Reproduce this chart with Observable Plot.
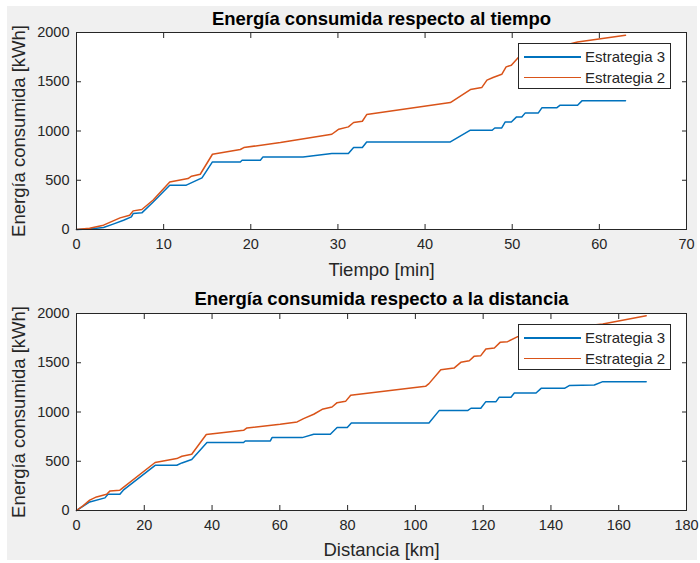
<!DOCTYPE html>
<html><head><meta charset="utf-8">
<script src="https://cdn.jsdelivr.net/npm/d3@7"></script>
<script src="https://cdn.jsdelivr.net/npm/@observablehq/plot@0.6"></script>
<style>
body{margin:0;background:#fff;}
#fig{position:relative;width:700px;height:563px;font-family:"Liberation Sans",Arial,sans-serif;overflow:hidden;}
#bg{position:absolute;left:7px;top:6px;width:690px;height:554px;background:#f0f0f0;}
.panel{position:absolute;left:0;}
.panel svg{overflow:visible;position:relative;z-index:1;display:block;}
.legend{position:absolute;z-index:5;background:#fff;border:1px solid #262626;box-sizing:border-box;width:153px;height:46px;font-size:15px;color:#262626;}
.row{position:absolute;left:0;height:20px;width:150px;}
.row .ln{position:absolute;left:5px;top:9px;width:57px;height:1.5px;}
.row .tx{position:absolute;left:66px;top:1px;line-height:18px;}
</style>
</head><body>
<div id="fig"><div id="bg"></div></div>
<script>
// ---- data ----
const seriesNames = ["Estrategia 3", "Estrategia 2"];
const seriesColors = ["#0072BD", "#D95319"];
const yTicks = [0, 500, 1000, 1500, 2000];

// Energía vs tiempo [min]
const timeTicks = [0, 10, 20, 30, 40, 50, 60, 70];
const tiempoE3 = [0,1.5,3.1,4.2,5.4,6.3,6.5,7.5,8.8,10.7,12.6,14.4,15.6,18.8,19.0,21.1,21.4,26.0,29.3,31.2,31.8,32.8,33.3,42.9,45.2,47.7,48.0,48.8,49.2,49.9,50.5,51.1,51.5,53.0,53.4,55.1,55.5,57.5,58.0,63.0];
const energiaTiempoE3 = [0,5,20,55,94,128,162,169,280,450,450,524,686,686,703,703,737,737,771,771,832,832,889,889,1008,1008,1031,1031,1092,1092,1143,1143,1184,1184,1235,1235,1262,1262,1306,1306];
const tiempoE2 = [0,1.5,3.1,5.0,6.1,6.5,7.5,8.8,10.7,12.8,13.2,14.2,15.6,18.8,19.2,23.4,29.3,30.1,31.2,31.8,32.8,33.3,42.9,45.2,46.5,47.1,47.8,48.8,49.3,49.9,50.7,52.0,54.0,56.0,57.5,63.0];
const energiaTiempoE2 = [0,12,44,118,145,189,203,300,483,517,541,561,764,812,832,883,967,1018,1042,1086,1099,1167,1289,1421,1441,1516,1543,1576,1651,1668,1746,1790,1830,1870,1904,1973];

// Energía vs distancia [km]
const distTicks = [0, 20, 40, 60, 80, 100, 120, 140, 160, 180];
const distE3 = [0,3.9,8.4,9.3,12.8,13.8,23.2,29.6,31.1,34.0,38.5,49.3,49.8,57.2,57.7,66.6,70.0,74.9,76.9,79.9,81.1,104.0,107.0,115.4,116.4,119.3,120.8,123.8,124.7,128.2,129.2,135.6,137.1,144.0,145.4,152.8,155.3,168.1];
const energiaDistE3 = [0,87,128,165,165,206,459,459,483,517,690,690,706,706,740,740,774,774,842,842,889,889,1014,1014,1038,1038,1105,1105,1149,1149,1193,1193,1240,1240,1268,1274,1308,1308];
const distE2 = [0,2.0,3.9,5.9,8.9,9.9,12.8,23.2,29.6,31.1,34.0,38.3,49.3,50.3,60.1,65.1,67.0,70.0,72.5,75.4,76.9,79.4,80.9,103.0,104.0,107.5,111.4,113.4,115.9,117.3,119.3,120.8,123.3,125.0,127.2,130.2,140.0,148.0,155.3,168.1];
const energiaDistE2 = [0,50,105,138,165,199,206,487,527,551,571,771,814,838,875,899,933,977,1027,1051,1095,1108,1169,1261,1288,1430,1446,1504,1521,1565,1572,1639,1649,1707,1714,1765,1830,1865,1894,1978];

const yLabel = "Energía consumida [kWh]";

function makePanel(o) {
  const rows = [
    ...o.x3.map((x, i) => ({x, e: o.e3[i], s: seriesNames[0]})),
    ...o.x2.map((x, i) => ({x, e: o.e2[i], s: seriesNames[1]}))
  ];
  const blank = () => "";
  const plain = d => String(d);
  const plot = Plot.plot({
    width: 700, height: o.height,
    marginLeft: 76, marginRight: 14, marginTop: 32, marginBottom: o.height - 32 - 197,
    style: {background: "transparent", fontFamily: "'Liberation Sans', Arial, sans-serif", fontSize: "14.5px", color: "#262626", overflow: "visible"},
    x: {domain: o.domain, ticks: o.ticks},
    y: {domain: [0, 2000], ticks: yTicks},
    color: {domain: seriesNames, range: seriesColors},
    marks: [
      Plot.frame({fill: "white", stroke: null}),
      Plot.line(rows, {x: "x", y: "e", z: "s", stroke: "s", strokeWidth: 1.5}),
      Plot.axisX(o.ticks, {anchor: "bottom", tickSize: 0, tickPadding: 9, tickFormat: plain, label: null, fill: "#262626"}),
      Plot.axisX(o.ticks, {anchor: "bottom", tickSize: 5, dy: -5, tickFormat: blank, label: null, stroke: "#262626"}),
      Plot.axisX(o.ticks, {anchor: "top", tickSize: 5, dy: 5, tickFormat: blank, label: null, stroke: "#262626"}),
      Plot.axisY(yTicks, {anchor: "left", tickSize: 0, tickPadding: 7, tickFormat: plain, label: null, fill: "#262626"}),
      Plot.axisY(yTicks, {anchor: "left", tickSize: 5, dx: 5, tickFormat: blank, label: null, stroke: "#262626"}),
      Plot.axisY(yTicks, {anchor: "right", tickSize: 5, dx: -5, tickFormat: blank, label: null, stroke: "#262626"}),
      Plot.frame({stroke: "#262626"}),
      Plot.text([o.title], {text: d => d, frameAnchor: "top", lineAnchor: "middle", textAnchor: "middle", dy: o.titleDy, fontWeight: "bold", fontSize: 18.5, fill: "black"}),
      Plot.text([o.xLabel], {text: d => d, frameAnchor: "bottom", lineAnchor: "middle", textAnchor: "middle", dy: o.xLabelDy, fontSize: 18.5, fill: "#262626"}),
      Plot.text([yLabel], {text: d => d, frameAnchor: "left", lineAnchor: "middle", textAnchor: "middle", dx: -57, rotate: -90, fontSize: 18.5, fill: "#262626"})
    ]
  });
  const wrap = document.createElement("div");
  wrap.className = "panel";
  wrap.style.top = o.top + "px";
  wrap.appendChild(plot);
  // legend
  const leg = document.createElement("div");
  leg.className = "legend";
  leg.style.left = "518px";
  leg.style.top = (o.legendTop - o.top) + "px";
  seriesNames.forEach((n, i) => {
    const r = document.createElement("div");
    r.className = "row";
    r.style.top = (3 + i * 20.5) + "px";
    const ln = document.createElement("div");
    ln.className = "ln";
    ln.style.background = seriesColors[i];
    const tx = document.createElement("div");
    tx.className = "tx";
    tx.textContent = n;
    r.appendChild(ln);
    r.appendChild(tx);
    leg.appendChild(r);
  });
  wrap.appendChild(leg);
  document.getElementById("fig").appendChild(wrap);
}

makePanel({x3: tiempoE3, e3: energiaTiempoE3, x2: tiempoE2, e2: energiaTiempoE2,
  domain: [0, 70], ticks: timeTicks, title: "Energía consumida respecto al tiempo",
  xLabel: "Tiempo [min]", height: 281, top: 0, titleDy: -13, xLabelDy: 41, legendTop: 43});
makePanel({x3: distE3, e3: energiaDistE3, x2: distE2, e2: energiaDistE2,
  domain: [0, 180], ticks: distTicks, title: "Energía consumida respecto a la distancia",
  xLabel: "Distancia [km]", height: 282, top: 281, titleDy: -14, xLabelDy: 40, legendTop: 324});
</script>
</body></html>
